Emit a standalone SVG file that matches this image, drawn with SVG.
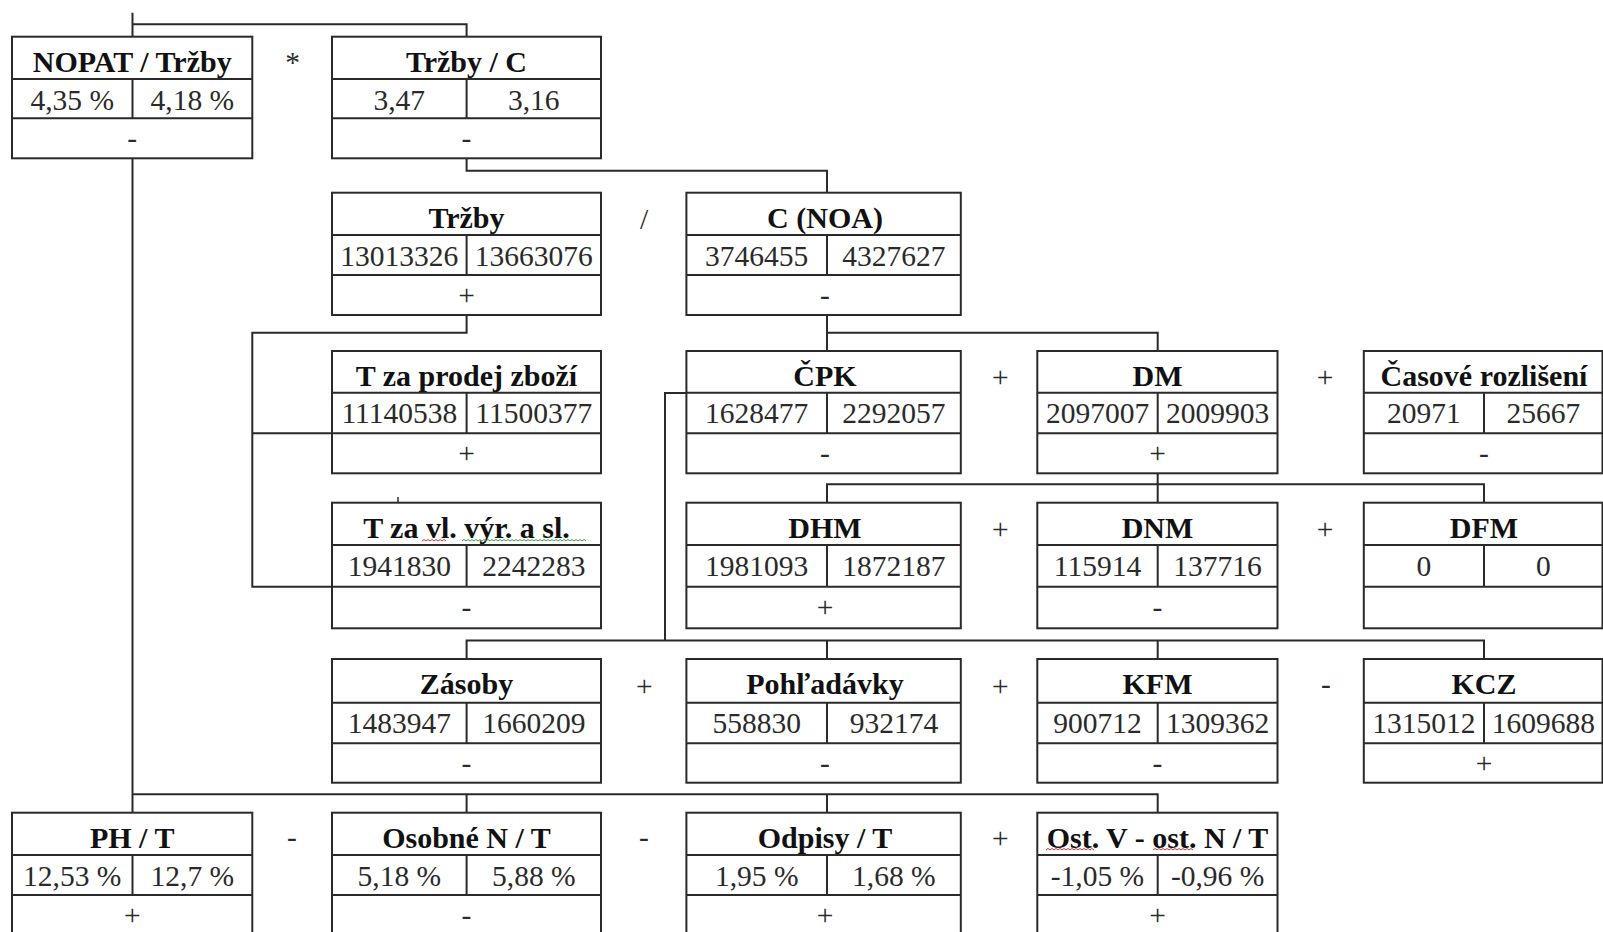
<svg xmlns="http://www.w3.org/2000/svg" width="1603" height="932" viewBox="0 0 1603 932">
<style>
.box{fill:#fff;stroke:#2a2a2a;stroke-width:2}
.ln{fill:none;stroke:#2a2a2a;stroke-width:2}
.t{font-family:"Liberation Serif","Times New Roman",serif;font-weight:bold;font-size:30px;text-anchor:middle;fill:#111}
.v{font-family:"Liberation Serif","Times New Roman",serif;font-size:29.5px;text-anchor:middle;fill:#2a2a2a}
.sqr{fill:none;stroke:#e03030;stroke-width:1}
.sqg{fill:none;stroke:#40a040;stroke-width:1}
</style>
<rect width="1603" height="932" fill="#fff"/>
<g id="connectors" class="ln">
<path d="M132.5 12.7V36.7M132.5 24.3H466.6V36.7"/>
<path d="M466.6 158.3V170.7H827V192.7"/>
<path d="M466.6 315V332.7H252.3V586.7H332M252.3 433.3H332"/>
<path d="M827 315V351M827 332.7H1157.7V351"/>
<path d="M686.4 393H665V640.5M466.6 659V640.5H1484V659M827 640.5V659M1157.7 640.5V659"/>
<path d="M1157.7 473.3V502.7M827 502.7V484.3H1484V502.7"/>
<path d="M132.5 158.3V794.3H1157.7V812.7M132.5 794.3V812.7M466.6 794.3V812.7M827 794.3V812.7"/>
<path d="M398 497V502.7" stroke-width="1.5"/>
</g>
<g id="operators" class="v">
<text x="292.6" y="72">*</text>
<text x="644" y="229">/</text>
<text x="1000.4" y="387">+</text>
<text x="1325" y="387">+</text>
<text x="1000.4" y="538.5">+</text>
<text x="1325" y="538.5">+</text>
<text x="644.3" y="695.5">+</text>
<text x="1000.4" y="695.5">+</text>
<text x="1326" y="694">-</text>
<text x="292" y="847">-</text>
<text x="644" y="847">-</text>
<text x="1000.4" y="848">+</text>
</g>

<g id="n-nopat-trzby">
<rect class="box" x="12" y="36.7" width="240.3" height="121.6"/>
<path class="ln" d="M12 79H252.3M12 118.3H252.3M132.5 79V118.3"/>
<text class="t" x="132.2" y="71.7">NOPAT / Tržby</text>
<text class="v" x="72.2" y="109.5">4,35 %</text>
<text class="v" x="192.4" y="109.5">4,18 %</text>
<text class="v" x="132.2" y="148.3">-</text>
</g>
<g id="n-trzby-c">
<rect class="box" x="332" y="36.7" width="269" height="121.6"/>
<path class="ln" d="M332 79H601M332 118.3H601M466.6 79V118.3"/>
<text class="t" x="466.5" y="71.7">Tržby / C</text>
<text class="v" x="399.3" y="109.5">3,47</text>
<text class="v" x="533.8" y="109.5">3,16</text>
<text class="v" x="466.5" y="148.3">-</text>
</g>

<g id="n-trzby">
<rect class="box" x="332" y="192.7" width="269" height="122.3"/>
<path class="ln" d="M332 235H601M332 275H601M466.6 235V275"/>
<text class="t" x="466.5" y="227.7">Tržby</text>
<text class="v" x="399.3" y="265.5">13013326</text>
<text class="v" x="533.8" y="265.5">13663076</text>
<text class="v" x="466.5" y="305">+</text>
</g>
<g id="n-c-noa">
<rect class="box" x="686.4" y="192.7" width="274.4" height="122.3"/>
<path class="ln" d="M686.4 235H960.8M686.4 275H960.8M827 235V275"/>
<text class="t" x="825" y="227.7">C (NOA)</text>
<text class="v" x="756.7" y="265.5">3746455</text>
<text class="v" x="893.9" y="265.5">4327627</text>
<text class="v" x="825" y="305">-</text>
</g>

<g id="n-t-zbozi">
<rect class="box" x="332" y="351" width="269" height="122.3"/>
<path class="ln" d="M332 392.7H601M332 433.3H601M466.6 392.7V433.3"/>
<text class="t" x="466.5" y="386">T za prodej zboží</text>
<text class="v" x="399.3" y="423.2">11140538</text>
<text class="v" x="533.8" y="423.2">11500377</text>
<text class="v" x="466.5" y="463.3">+</text>
</g>
<g id="n-cpk">
<rect class="box" x="686.4" y="351" width="274.4" height="122.3"/>
<path class="ln" d="M686.4 392.7H960.8M686.4 433.3H960.8M827 392.7V433.3"/>
<text class="t" x="825" y="386">ČPK</text>
<text class="v" x="756.7" y="423.2">1628477</text>
<text class="v" x="893.9" y="423.2">2292057</text>
<text class="v" x="825" y="463.3">-</text>
</g>
<g id="n-dm">
<rect class="box" x="1037.3" y="351" width="240.2" height="122.3"/>
<path class="ln" d="M1037.3 392.7H1277.5M1037.3 433.3H1277.5M1157.7 392.7V433.3"/>
<text class="t" x="1157.5" y="386">DM</text>
<text class="v" x="1097.5" y="423.2">2097007</text>
<text class="v" x="1217.6" y="423.2">2009903</text>
<text class="v" x="1157.5" y="463.3">+</text>
</g>
<g id="n-casove">
<rect class="box" x="1363.8" y="351" width="238.7" height="122.3"/>
<path class="ln" d="M1363.8 392.7H1602.5M1363.8 433.3H1602.5M1484 392.7V433.3"/>
<text class="t" x="1484" y="386">Časové rozlišení</text>
<text class="v" x="1423.9" y="423.2">20971</text>
<text class="v" x="1543.3" y="423.2">25667</text>
<text class="v" x="1484" y="463.3">-</text>
</g>

<g id="n-t-vyr">
<rect class="box" x="332" y="502.7" width="269" height="125.6"/>
<path class="ln" d="M332 545H601M332 586.7H601M466.6 545V586.7"/>
<text class="t" x="466.5" y="537.7">T za vl. výr. a sl.</text>
<path class="sqr" d="M422 541l2 -1.5l2 1.5l2 -1.5l2 1.5l2 -1.5l2 1.5l2 -1.5l2 1.5l2 -1.5l2 1.5l2 -1.5l2 1.5"/>
<path class="sqg" d="M462 541l2 -1.5l2 1.5l2 -1.5l2 1.5l2 -1.5l2 1.5l2 -1.5l2 1.5l2 -1.5l2 1.5l2 -1.5l2 1.5l2 -1.5l2 1.5l2 -1.5l2 1.5l2 -1.5l2 1.5l2 -1.5l2 1.5l2 -1.5l2 1.5l2 -1.5l2 1.5l2 -1.5l2 1.5l2 -1.5l2 1.5l2 -1.5l2 1.5l2 -1.5l2 1.5l2 -1.5l2 1.5l2 -1.5l2 1.5l2 -1.5l2 1.5l2 -1.5l2 1.5l2 -1.5l2 1.5l2 -1.5l2 1.5l2 -1.5l2 1.5l2 -1.5l2 1.5l2 -1.5l2 1.5l2 -1.5l2 1.5l2 -1.5l2 1.5l2 -1.5l2 1.5l2 -1.5l2 1.5l2 -1.5l2 1.5l2 -1.5l2 1.5"/>
<text class="v" x="399.3" y="575.5">1941830</text>
<text class="v" x="533.8" y="575.5">2242283</text>
<text class="v" x="466.5" y="616.7">-</text>
</g>
<g id="n-dhm">
<rect class="box" x="686.4" y="502.7" width="274.4" height="125.6"/>
<path class="ln" d="M686.4 545H960.8M686.4 586.7H960.8M827 545V586.7"/>
<text class="t" x="825" y="537.7">DHM</text>
<text class="v" x="756.7" y="575.5">1981093</text>
<text class="v" x="893.9" y="575.5">1872187</text>
<text class="v" x="825" y="616.7">+</text>
</g>
<g id="n-dnm">
<rect class="box" x="1037.3" y="502.7" width="240.2" height="125.6"/>
<path class="ln" d="M1037.3 545H1277.5M1037.3 586.7H1277.5M1157.7 545V586.7"/>
<text class="t" x="1157.5" y="537.7">DNM</text>
<text class="v" x="1097.5" y="575.5">115914</text>
<text class="v" x="1217.6" y="575.5">137716</text>
<text class="v" x="1157.5" y="616.7">-</text>
</g>
<g id="n-dfm">
<rect class="box" x="1363.8" y="502.7" width="238.7" height="125.6"/>
<path class="ln" d="M1363.8 545H1602.5M1363.8 586.7H1602.5M1484 545V586.7"/>
<text class="t" x="1484" y="537.7">DFM</text>
<text class="v" x="1423.9" y="575.5">0</text>
<text class="v" x="1543.3" y="575.5">0</text>
</g>

<g id="n-zasoby">
<rect class="box" x="332" y="659" width="269" height="123.7"/>
<path class="ln" d="M332 702.7H601M332 743.3H601M466.6 702.7V743.3"/>
<text class="t" x="466.5" y="694">Zásoby</text>
<text class="v" x="399.3" y="733.2">1483947</text>
<text class="v" x="533.8" y="733.2">1660209</text>
<text class="v" x="466.5" y="773.3">-</text>
</g>
<g id="n-pohladavky">
<rect class="box" x="686.4" y="659" width="274.4" height="123.7"/>
<path class="ln" d="M686.4 702.7H960.8M686.4 743.3H960.8M827 702.7V743.3"/>
<text class="t" x="825" y="694">Pohľadávky</text>
<text class="v" x="756.7" y="733.2">558830</text>
<text class="v" x="893.9" y="733.2">932174</text>
<text class="v" x="825" y="773.3">-</text>
</g>
<g id="n-kfm">
<rect class="box" x="1037.3" y="659" width="240.2" height="123.7"/>
<path class="ln" d="M1037.3 702.7H1277.5M1037.3 743.3H1277.5M1157.7 702.7V743.3"/>
<text class="t" x="1157.5" y="694">KFM</text>
<text class="v" x="1097.5" y="733.2">900712</text>
<text class="v" x="1217.6" y="733.2">1309362</text>
<text class="v" x="1157.5" y="773.3">-</text>
</g>
<g id="n-kcz">
<rect class="box" x="1363.8" y="659" width="238.7" height="123.7"/>
<path class="ln" d="M1363.8 702.7H1602.5M1363.8 743.3H1602.5M1484 702.7V743.3"/>
<text class="t" x="1484" y="694">KCZ</text>
<text class="v" x="1423.9" y="733.2">1315012</text>
<text class="v" x="1543.3" y="733.2">1609688</text>
<text class="v" x="1484" y="773.3">+</text>
</g>

<g id="n-ph-t">
<rect class="box" x="12" y="812.7" width="240.3" height="124"/>
<path class="ln" d="M12 855H252.3M12 895H252.3M132.5 855V895"/>
<text class="t" x="132.2" y="847.7">PH / T</text>
<text class="v" x="72.2" y="885.5">12,53 %</text>
<text class="v" x="192.4" y="885.5">12,7 %</text>
<text class="v" x="132.2" y="925">+</text>
</g>
<g id="n-osobne">
<rect class="box" x="332" y="812.7" width="269" height="124"/>
<path class="ln" d="M332 855H601M332 895H601M466.6 855V895"/>
<text class="t" x="466.5" y="847.7">Osobné N / T</text>
<text class="v" x="399.3" y="885.5">5,18 %</text>
<text class="v" x="533.8" y="885.5">5,88 %</text>
<text class="v" x="466.5" y="925">-</text>
</g>
<g id="n-odpisy">
<rect class="box" x="686.4" y="812.7" width="274.4" height="124"/>
<path class="ln" d="M686.4 855H960.8M686.4 895H960.8M827 855V895"/>
<text class="t" x="825" y="847.7">Odpisy / T</text>
<text class="v" x="756.7" y="885.5">1,95 %</text>
<text class="v" x="893.9" y="885.5">1,68 %</text>
<text class="v" x="825" y="925">+</text>
</g>
<g id="n-ost">
<rect class="box" x="1037.3" y="812.7" width="240.2" height="124"/>
<path class="ln" d="M1037.3 855H1277.5M1037.3 895H1277.5M1157.7 855V895"/>
<text class="t" x="1157.5" y="847.7">Ost. V - ost. N / T</text>
<path class="sqr" d="M1046 850l2 -1.5l2 1.5l2 -1.5l2 1.5l2 -1.5l2 1.5l2 -1.5l2 1.5l2 -1.5l2 1.5l2 -1.5l2 1.5l2 -1.5l2 1.5l2 -1.5l2 1.5l2 -1.5l2 1.5l2 -1.5l2 1.5l2 -1.5l2 1.5l2 -1.5l2 1.5"/>
<path class="sqr" d="M1153 850l2 -1.5l2 1.5l2 -1.5l2 1.5l2 -1.5l2 1.5l2 -1.5l2 1.5l2 -1.5l2 1.5l2 -1.5l2 1.5l2 -1.5l2 1.5l2 -1.5l2 1.5l2 -1.5l2 1.5l2 -1.5l2 1.5"/>
<text class="v" x="1097.5" y="885.5">-1,05 %</text>
<text class="v" x="1217.6" y="885.5">-0,96 %</text>
<text class="v" x="1157.5" y="925">+</text>
</g>
</svg>
